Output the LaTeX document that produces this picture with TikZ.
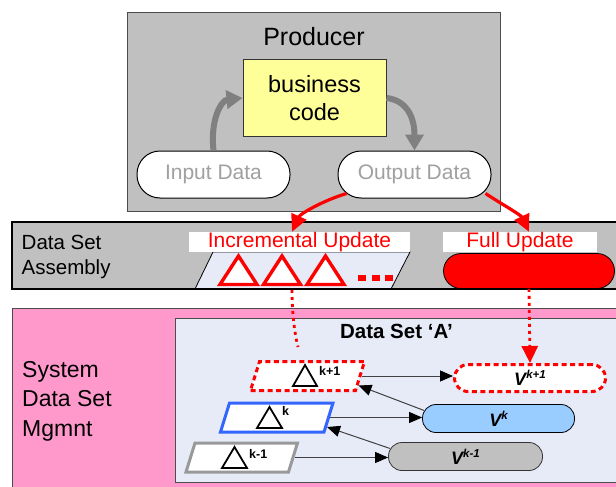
\documentclass[tikz,border=0pt]{standalone}
\usepackage{fontspec}
\setmainfont{Liberation Sans}
\usetikzlibrary{arrows.meta,calc}

\definecolor{panelgray}{RGB}{192,192,192}
\definecolor{codeyellow}{RGB}{255,255,153}
\definecolor{mgmtpink}{RGB}{255,153,204}
\definecolor{setbg}{RGB}{231,235,247}
\definecolor{curblue}{RGB}{153,204,255}
\definecolor{edgeblue}{RGB}{51,102,255}
\definecolor{oldgray}{RGB}{153,153,153}
\definecolor{arrowgray}{RGB}{128,128,128}
\definecolor{fadedtext}{RGB}{160,160,160}
\definecolor{upred}{RGB}{255,0,0}

\newcommand\fsz[2]{\fontsize{#1}{#2}\selectfont}
\newcommand\vlabel[1]{V\raisebox{7pt}{\fsz{11.5}{13}#1}}
% slanted outline around a named box node (top edge shifted right)
\newcommand\slabpath[1]{($(#1.south west)+(-4.5pt,0)$) -- ($(#1.south east)+(-4.5pt,0)$)
  -- ($(#1.north east)+(4.5pt,0)$) -- ($(#1.north west)+(4.5pt,0)$) -- cycle}

\begin{document}
\begin{tikzpicture}[x=1pt,y=1pt,
  datapill/.style={rectangle, rounded corners=23pt, minimum width=153pt, minimum height=47pt,
    inner sep=0pt, draw=black, line width=1pt, fill=white, text=fadedtext, font=\fsz{21}{25}},
  vpill/.style={rectangle, rounded corners=13.5pt, minimum height=28pt, inner sep=0pt,
    font=\bfseries\itshape\fsz{18}{20}},
  slabbox/.style={rectangle, minimum height=29pt, inner sep=0pt, outer sep=0pt},
  slabline/.style={fill=white, line width=3pt},
  labelbox/.style={fill=white, minimum height=20pt, inner sep=0pt, text=upred, font=\fsz{21}{24}},
  flowgray/.style={draw=arrowgray, line width=6pt, -{Triangle[length=16pt,width=18pt]}},
  redflow/.style={draw=upred, line width=3.2pt, -{Triangle[length=17pt,width=16pt]}},
  reddot/.style={draw=upred, line width=2.8pt, dash pattern=on 3pt off 4pt},
  reddash/.style={dash pattern=on 5pt off 3.5pt},
  redtri/.style={draw=upred, fill=white, line width=3.4pt, line join=miter},
  tri/.style={draw=black, line width=1.8pt, line join=miter},
  link/.style={draw=black!75, line width=1pt, -{Triangle[length=13pt,width=11pt,color=black]}},
  suplabel/.style={anchor=base west, inner sep=0pt, font=\bfseries\fsz{12.5}{14}}
]
\useasboundingbox (0,0) rectangle (616,-487);

% ---- Producer ----
\node[draw=black!70, line width=1.3pt, fill=panelgray, minimum width=373pt, minimum height=199pt,
  inner sep=0pt] (producer) at (314,-112) {};
\node[anchor=base, inner sep=0pt, font=\fsz{25}{30}] (prodtitle) at (314,-46) {Producer};
\node[draw=black!80, line width=1pt, fill=codeyellow, minimum width=143pt, minimum height=76pt,
  inner sep=0pt, align=center, font=\fsz{23.5}{28}] (code) at (314.5,-98) {business\\code};
\node[datapill] (inp) at (213.5,-174.5) {Input Data};
\node[datapill] (outp) at (414.5,-174.5) {Output Data};

\draw[flowgray] (inp.north) .. controls (210,-118) and (222,-100) .. (code.west);
\draw[flowgray] (code.east) .. controls (405,-100) and (414.5,-115) .. (outp.north);

% ---- Data Set Assembly ----
\fill[panelgray] (12,-222) rectangle (630,-289);
\filldraw[fill=setbg, draw=black, line width=0.8pt] (195,-289) -- (213,-252) -- (410,-252) -- (391,-289);
\draw[black, line width=1.2pt] (12,-222) rectangle (630,-289);
\node[anchor=north west, align=left, inner sep=0pt, font=\fsz{20.5}{25}] (asmlabel) at (21.5,-235.3) {Data Set\\Assembly};

\node[labelbox, minimum width=221pt] (inc) at (299.5,-242) {Incremental Update};
\node[labelbox, minimum width=154pt] (full) at (520,-242) {Full Update};

\foreach \x in {238.5,282,325.5}
  \draw[redtri] (\x-18.5,-284.5) -- (\x+18.5,-284.5) -- (\x,-256) -- cycle;
\foreach \x in {358,372,385}
  \fill[upred] (\x,-275) rectangle ++(8,-6);

\node[draw=black, line width=0.8pt, fill=upred, rounded corners=17.5pt, minimum width=171pt,
  minimum height=35pt, inner sep=0pt] (fullbox) at (529,-271) {};

\draw[redflow] ([shift={(9pt,5pt)}]outp.south west) .. controls (322,-201) and (300,-214) .. ([xshift=-7.5pt]inc.north);
\draw[redflow] ([shift={(-6pt,5pt)}]outp.south east) .. controls (500,-203) and (521,-215) .. ([xshift=9pt]full.north);

% ---- System Data Set Mgmnt ----
\filldraw[fill=mgmtpink, draw=black!70, line width=1pt] (12,-308) rectangle (630,-495);
\node[anchor=north west, align=left, inner sep=0pt, font=\fsz{23}{29.5}] (mgmtlabel) at (22,-361) {System\\Data Set\\Mgmnt};

\filldraw[fill=setbg, draw=black!70, line width=0.8pt] (175,-318) rectangle (630,-482);
\node[anchor=base, inner sep=0pt, font=\bfseries\fsz{20.5}{24}] (dstitle) at (396.5,-338) {Data Set ‘A’};

% deltas
\node[slabbox, minimum width=105pt] (d1) at (307.5,-376) {};
\node[slabbox, minimum width=103.5pt] (d0) at (276.75,-417.5) {};
\node[slabbox, minimum width=102.5pt] (dm) at (241.75,-457.5) {};
\filldraw[slabline, draw=upred, reddash] \slabpath{d1};
\filldraw[slabline, draw=edgeblue] \slabpath{d0};
\filldraw[slabline, draw=oldgray] \slabpath{dm};

\draw[tri] (293,-386) -- (317,-386) -- (305,-365) -- cycle;
\draw[tri] (257,-428) -- (282,-428) -- (269.5,-407) -- cycle;
\draw[tri] (222,-468) -- (247,-468) -- (234.5,-447) -- cycle;
\node[suplabel] (d1sup) at (319,-375) {k+1};
\node[suplabel] (d0sup) at (282,-415) {k};
\node[suplabel] (dmsup) at (249,-458) {k-1};

% versions
\node[vpill, draw=upred, reddash, line width=3pt, fill=white, minimum width=151pt, minimum height=27pt]
  (v1) at (530,-378) {\vlabel{k+1}};
\node[vpill, draw=black, line width=0.8pt, fill=curblue, minimum width=152pt] (v0) at (498.5,-418.5) {\vlabel{k}};
\node[vpill, draw=black!80, line width=0.8pt, fill=panelgray, minimum width=154pt] (vm) at (465.5,-456.5) {\vlabel{k-1}};

\draw[link] ([xshift=1.5pt]d1.east) -- (d1.east -| v1.west);
\draw[link] ($(v0.west)+(2pt,8pt)$) -- ($(d1.south east)+(-1.5pt,5pt)$);
\draw[link] ([xshift=1.5pt]d0.east) -- (d0.east -| v0.west);
\draw[link] ($(vm.west)+(2pt,8pt)$) -- ($(d0.south east)+(-1.5pt,5pt)$);
\draw[link] ([xshift=1.5pt]dm.east) -- (dm.east -| vm.west);

% dotted hand-offs from the assembly stage
\coordinate (incdrop) at (292,-290);
\coordinate (incend) at (298,-347);
\draw[reddot] (incdrop) .. controls (292,-315) and (295,-335) .. (incend);
\draw[reddot, -{Triangle[length=17pt,width=16pt]}] (fullbox.south) -- (v1.north);
\end{tikzpicture}
\end{document}
